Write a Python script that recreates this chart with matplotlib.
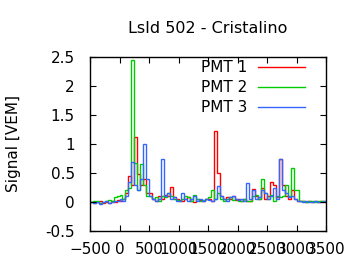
import matplotlib
matplotlib.use("Agg")
import matplotlib.pyplot as plt
import numpy as np

title = "LsId 502 - Cristalino"
ylabel = "Signal [VEM]"
series_names = ["PMT 1", "PMT 2", "PMT 3"]
bin_start = -500
bin_width = 50

pmt1 = [0, -0.02, 0, 0.02, -0.01, 0, -0.02, 0.01, 0, 0.03,
        0.02, 0.05, 0.15, 0.45, 0.3, 1.12, 0.49, 0.3, 0.4, 0.15,
        0.15, 0.05, 0.02, 0.1, 0.05, 0.12, 0.1, 0.26, 0.08, 0.05,
        0.03, 0.02, 0.05, 0.08, 0.02, 0.0, 0.05, 0.03, 0.02, 0.05,
        0.05, 0.02, 1.22, 0.5, 0.1, 0.05, 0.08, 0.05, 0.1, 0.03,
        0.05, 0.02, 0.05, 0.02, 0.02, 0.22, 0.1, 0.05, 0.25, 0.05,
        0.1, 0.35, 0.3, 0.08, 0.75, 0.3, 0.1, 0.05, 0.2, 0.05,
        0.02, 0.02, 0.01, 0, 0.01, 0, 0.02, 0, 0.01, 0]
pmt2 = [0, 0.01, 0.02, -0.01, 0, 0.01, 0.03, 0.02, 0.08, 0.1,
        0.12, 0.05, 0.2, 0.25, 2.45, 0.68, 0.2, 0.65, 0.3, 0.1,
        0.1, 0.05, 0.08, 0.02, 0.1, 0.08, 0.15, 0.1, 0.05, 0.03,
        0.02, 0.05, 0.1, 0.08, 0.02, 0.12, 0.05, 0.02, 0.03, 0.05,
        0.08, 0.2, 0.05, 0.15, 0.05, 0.02, 0.05, 0.08, 0.03, 0.05,
        0.02, 0.02, 0.05, 0.02, 0.01, 0.1, 0.12, 0.05, 0.4, 0.15,
        0.05, 0.12, 0.02, 0.1, 0.08, 0.1, 0.3, 0.1, 0.59, 0.2,
        0.2, 0.02, 0.01, 0, 0.01, 0.02, 0, 0.01, 0.02, 0.01]
pmt3 = [0, -0.01, 0, -0.04, 0, 0.01, -0.02, 0, 0.02, 0.01,
        0.05, 0.02, 0.1, 0.35, 0.69, 0.3, 0.2, 0.4, 1.0, 0.4,
        0.1, 0.05, 0.02, 0.05, 0.74, 0.1, 0.15, 0.05, 0.08, 0.02,
        0.02, 0.15, 0.05, 0.02, 0.05, 0.1, 0.02, 0.05, 0.02, 0.05,
        0.03, 0.02, 0.05, 0.27, 0.1, 0.05, 0.02, 0.08, 0.1, 0.05,
        0.03, 0.05, 0.02, 0.32, 0.05, 0.2, 0.05, 0.08, 0.2, 0.15,
        0.05, 0.1, 0.25, 0.05, 0.74, 0.2, 0.15, 0.08, 0.1, 0.05,
        0.02, 0.01, 0, 0.01, 0, 0, 0.01, 0, 0, 0.01]
colors = ["#ff0000", "#00cc00", "#3366ff"]

xticks = [-500, 0, 500, 1000, 1500, 2000, 2500, 3000, 3500]
yticks = [-0.5, 0, 0.5, 1, 1.5, 2, 2.5]
ytick_labels = ["-0.5", "0", "0.5", "1", "1.5", "2", "2.5"]

plt.rcParams['font.family'] = ['DejaVu Sans']
fig = plt.figure(figsize=(3.6, 2.7), dpi=100)
ax = fig.add_axes([90/360, 1 - 231/270, 236/360, 174/270])

for vals, c, name in zip([pmt1, pmt2, pmt3], colors, series_names):
    edges = bin_start + bin_width * np.arange(len(vals) + 1)
    ax.stairs(vals, edges, color=c, lw=1.0, label=name, baseline=None)

ax.set_xlim(-500, 3500)
ax.set_ylim(-0.5, 2.5)
ax.set_xticks(xticks)
ax.set_yticks(yticks)
ax.set_yticklabels(ytick_labels)
ax.tick_params(direction='in', top=True, right=True, labelsize=11, length=4, width=0.8)
ax.tick_params(axis='x', pad=8)
ax.tick_params(axis='y', pad=11)
for s in ax.spines.values():
    s.set_linewidth(1.0)
ax.set_title(title, fontsize=11.5, pad=17)
ax.set_ylabel(ylabel, fontsize=11, labelpad=17)

leg = ax.legend(loc='upper right', frameon=False, markerfirst=False, fontsize=11,
                handlelength=3.1, handletextpad=0.7, labelspacing=0.33,
                borderaxespad=0.2, bbox_to_anchor=(0.95, 1.035))
for h in leg.get_lines():
    h.set_linewidth(1.0)

fig.savefig("out.png", dpi=100)
